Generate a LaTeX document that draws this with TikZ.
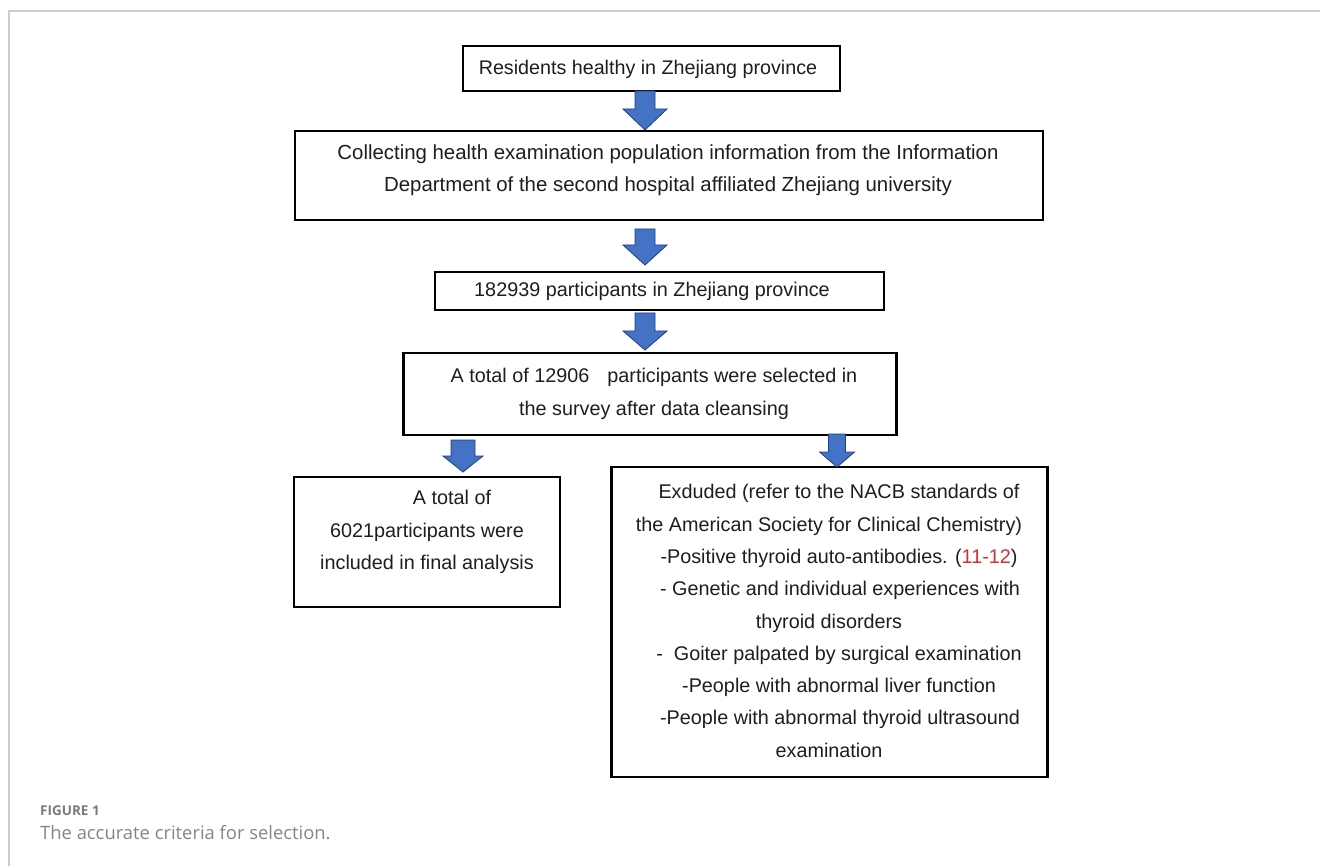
\documentclass[tikz,border=0pt]{standalone}
\usepackage{fontspec}
\setmainfont{Liberation Sans}
\newfontfamily\capfont{Open Sans}
\definecolor{textc}{HTML}{1E1E1E}
\definecolor{arrowfill}{HTML}{4472C4}
\definecolor{arrowline}{HTML}{1F3F80}
\definecolor{refred}{HTML}{D03030}
\definecolor{framec}{HTML}{CCCCCC}
\definecolor{capc}{HTML}{858585}
\definecolor{capd}{HTML}{7A7A7A}
\newcommand{\blockarrow}[6]{% x, ytop, ytip, shaft half width, head half width, head length
  \draw[barrowst] (#1-#4,#2) -- (#1+#4,#2) -- (#1+#4,#3-#6) -- (#1+#5,#3-#6) -- (#1,#3) -- (#1-#5,#3-#6) -- (#1-#4,#3-#6) -- cycle;}
\begin{document}
\begin{tikzpicture}[x=1pt,y=-1pt,
  box/.style={draw=black, line width=2.2pt, fill=white, inner sep=0pt},
  txt/.style={font=\fontsize{19.8}{32.3}\selectfont, align=center, text=textc, inner sep=0pt},
  barrowst/.style={fill=arrowfill, draw=arrowline, line width=0.8pt, line join=miter}]
\useasboundingbox (0,0) rectangle (1320,866);
% frame
\draw[framec, line width=1.5pt] (1320,11) -- (9,11) -- (9,866);
% boxes
\node[box, minimum width=377pt, minimum height=45pt] (b1) at (651.5,68.5) {};
\node[txt, font=\fontsize{19.7}{32.3}\selectfont] (t1) at (648,69) {Residents healthy in Zhejiang province};
\node[box, minimum width=748pt, minimum height=89pt] (b2) at (669,175.5) {};
\node[txt, font=\fontsize{20.4}{32.3}\selectfont] (t2) at (668,170) {Collecting health examination population information from the Information\\Department of the second hospital affiliated Zhejiang university};
\node[box, minimum width=449pt, minimum height=38pt] (b3) at (659.5,291) {};
\node[txt] (t3) at (652,291) {182939 participants in Zhejiang province};
\node[box, minimum width=493pt, minimum height=82pt] (b4) at (650,394) {};
\node[txt] (t4) at (654,394) {A total of 12906\hspace*{18pt}participants were selected in\\the survey after data cleansing};
\node[box, minimum width=266pt, minimum height=130pt] (b5) at (427,542) {};
\node[txt] (t5) at (427,532) {\hspace*{50pt}A total of\\6021participants were\\included in final analysis};
\node[box, minimum width=436pt, minimum height=310pt] (b6) at (829.5,622) {};
\node[txt] (t6) at (829,621) {\hspace*{20pt}Exduded (refer to the NACB standards of\\
the American Society for Clinical Chemistry)\\
\hspace*{20pt}-Positive thyroid auto-antibodies. (\textcolor{refred}{11-12})\\
\hspace*{22pt}- Genetic and individual experiences with\\
thyroid disorders\\
\hspace*{20pt}-\ \ Goiter palpated by surgical examination\\
\hspace*{20pt}-People with abnormal liver function\\
\hspace*{22pt}-People with abnormal thyroid ultrasound\\
examination};
% block arrows
\blockarrow{645}{91}{130}{10}{22}{21}
\blockarrow{645}{229}{265}{10}{22}{20}
\blockarrow{645}{313}{350}{10}{22}{19}
\blockarrow{463}{440}{472}{12}{20}{16}
\blockarrow{837}{434}{467}{8.5}{17.5}{15}
% caption
\node[anchor=base west, inner sep=0pt, text=capd, font=\capfont\bfseries\fontsize{13.5}{15}\selectfont] (cap1) at (40,815) {FIGURE 1};
\node[anchor=base west, inner sep=0pt, text=capc, font=\capfont\fontsize{18.4}{20}\selectfont] (cap2) at (40,839) {The accurate criteria for selection.};
\end{tikzpicture}
\end{document}
